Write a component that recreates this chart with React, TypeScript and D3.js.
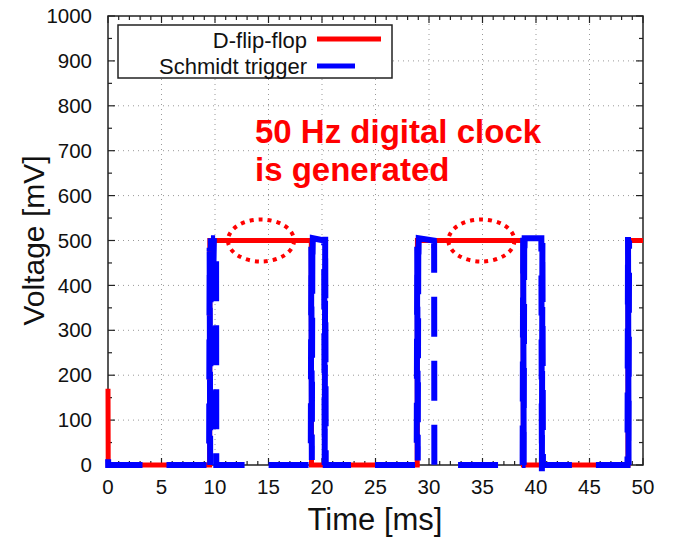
import React from 'react';
import * as d3 from 'd3';

// Axis ticks
const xTicks = [0, 5, 10, 15, 20, 25, 30, 35, 40, 45, 50];
const yTicks = [0, 100, 200, 300, 400, 500, 600, 700, 800, 900, 1000];

// D-flip-flop output (time in ms, voltage in mV)
const flipFlopT = [0, 0.02, 9.5, 9.52, 19.0, 19.02, 28.9, 28.92, 38.8, 38.82, 48.6, 48.62, 50];
const flipFlopV = [170, 0, 0, 500, 500, 0, 0, 500, 500, 0, 0, 500, 500];

// Schmidt trigger output (time in ms, voltage in mV), including edge ringing
const schmittT = [
  0, 0.02, 9.45,
  9.5, 9.55, 9.6, 9.65, 9.7, 9.8, 9.9, 10.1, 10.12,
  18.95, 19.0, 19.05, 19.1, 19.12, 19.14, 20.2, 20.25, 20.3, 20.35,
  28.85, 28.9, 28.95, 29.0, 29.02, 29.04, 30.45, 30.47, 30.48, 30.5,
  38.75, 38.8, 38.85, 38.9, 38.92, 38.94, 40.5, 40.55, 40.6, 40.65,
  48.55, 48.6, 48.65, 48.7,
];
const schmittV = [
  35, 0, 0,
  484, 0, 505, 380, 505, 373, 505, 505, 0,
  0, 486, 11, 505, 469, 505, 500, 0, 511, 0,
  0, 486, 10, 505, 469, 505, 500, 464, 500, 0,
  0, 506, 0, 505, 469, 505, 505, -14, 500, 0,
  0, 508, 0, 500,
];

const seriesNames = ['D-flip-flop', 'Schmidt trigger'];
const seriesColors = ['#ff0000', '#0000ff'];
const noteLines = ['50 Hz digital clock', 'is generated'];

// Highlighted high-level stretches of the clock
const highlightT = [14.3, 34.9];
const highlightV = [500, 500];

const W = 673;
const H = 542;
const FONT = "'Liberation Sans', Arial, sans-serif";

export default function App() {
  const x = d3.scaleLinear().domain([0, 50]).range([108, 643]);
  const y = d3.scaleLinear().domain([0, 1000]).range([465, 16]);
  const line = d3
    .line<[number, number]>()
    .x((d) => x(d[0]))
    .y((d) => y(d[1]));

  const ffPts = flipFlopT.map((t, i) => [t, flipFlopV[i]] as [number, number]);
  const stPts = schmittT.map((t, i) => [t, schmittV[i]] as [number, number]);

  const xMinor = d3.range(0, 50.001, 1);
  const yMinor = d3.range(0, 1000.001, 50);
  const [xl, xr] = x.range();
  const [yb, yt] = y.range();

  return (
    <svg
      width={W}
      height={H}
      style={{ position: 'absolute', left: 0, top: 0 }}
      fontFamily={FONT}
    >
      <rect width={W} height={H} fill="#fff" />

      {/* dotted grid */}
      {xTicks.slice(1, -1).map((t) => (
        <line key={'gx' + t} x1={x(t)} x2={x(t)} y1={yb} y2={yt} stroke="#999" strokeWidth={1} strokeDasharray="1 4" />
      ))}
      {yTicks.slice(1, -1).map((v) => (
        <line key={'gy' + v} x1={xl} x2={xr} y1={y(v)} y2={y(v)} stroke="#999" strokeWidth={1} strokeDasharray="1 4" />
      ))}

      {/* inward ticks on all four sides */}
      {xMinor.map((t) => {
        const len = t % 5 === 0 ? 7 : 4;
        return (
          <g key={'tx' + t} stroke="#222" strokeWidth={1.2}>
            <line x1={x(t)} x2={x(t)} y1={yb} y2={yb - len} />
            <line x1={x(t)} x2={x(t)} y1={yt} y2={yt + len} />
          </g>
        );
      })}
      {yMinor.map((v) => {
        const len = v % 100 === 0 ? 7 : 4;
        return (
          <g key={'ty' + v} stroke="#222" strokeWidth={1.2}>
            <line x1={xl} x2={xl + len} y1={y(v)} y2={y(v)} />
            <line x1={xr} x2={xr - len} y1={y(v)} y2={y(v)} />
          </g>
        );
      })}

      {/* frame */}
      <rect x={xl} y={yt} width={xr - xl} height={yb - yt} fill="none" stroke="#222" strokeWidth={1.5} />

      {/* waveforms */}
      <path d={line(ffPts) || ''} fill="none" stroke={seriesColors[0]} strokeWidth={5} strokeLinejoin="miter" />
      <path
        d={line(stPts) || ''}
        fill="none"
        stroke={seriesColors[1]}
        strokeWidth={6}
        strokeDasharray="40 24"
        strokeDashoffset={54}
        strokeLinejoin="miter"
      />

      {/* dotted ellipses around the high level */}
      {highlightT.map((t, i) => (
        <ellipse
          key={'el' + i}
          cx={x(t)}
          cy={y(highlightV[i])}
          rx={33}
          ry={21}
          fill="none"
          stroke="#ff0000"
          strokeWidth={4}
          strokeDasharray="4 5"
        />
      ))}

      {/* annotation */}
      <text fill="#ff0000" fontWeight="bold" fontSize={33}>
        <tspan x={255} y={143}>{noteLines[0]}</tspan>
        <tspan x={255} y={181}>{noteLines[1]}</tspan>
      </text>

      {/* legend */}
      <rect x={118} y={25} width={274} height={53} fill="#fff" stroke="#222" strokeWidth={1.5} />
      <text x={307} y={48} textAnchor="end" fontSize={22} fill="#111">{seriesNames[0]}</text>
      <text x={307} y={74} textAnchor="end" fontSize={22} fill="#111">{seriesNames[1]}</text>
      <line x1={317} x2={381} y1={39} y2={39} stroke={seriesColors[0]} strokeWidth={5} />
      <line x1={317} x2={381} y1={66} y2={66} stroke={seriesColors[1]} strokeWidth={5} strokeDasharray="38 26" />

      {/* tick labels */}
      {xTicks.map((t) => (
        <text key={'lx' + t} x={x(t)} y={494} textAnchor="middle" fontSize={20.5} fill="#111">{t}</text>
      ))}
      {yTicks.map((v) => (
        <text key={'ly' + v} x={92} y={y(v)} dy="0.35em" textAnchor="end" fontSize={20.5} fill="#111">{v}</text>
      ))}

      {/* axis titles */}
      <text x={375} y={530} textAnchor="middle" fontSize={31} fill="#111">Time [ms]</text>
      <text transform={`translate(44,${(yb + yt) / 2}) rotate(-90)`} textAnchor="middle" fontSize={30} fill="#111">
        Voltage [mV]
      </text>
    </svg>
  );
}
